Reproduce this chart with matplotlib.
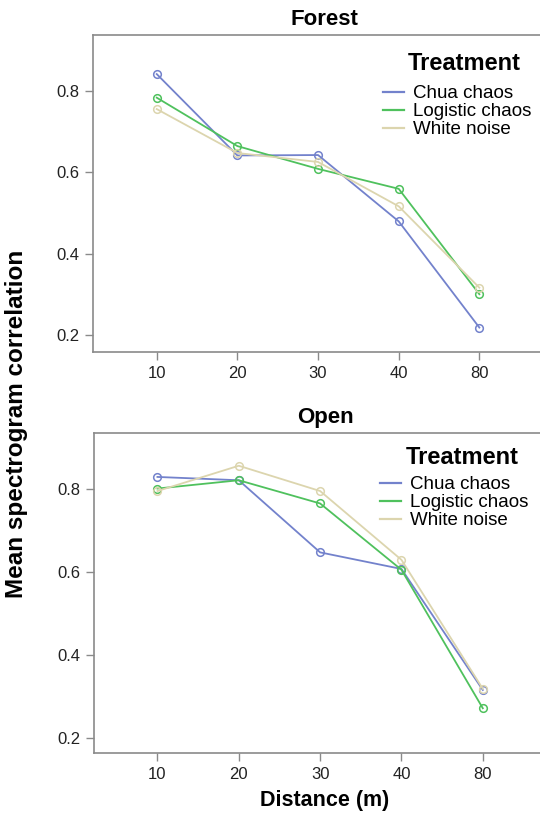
import matplotlib
matplotlib.use("Agg")
import matplotlib.pyplot as plt
from matplotlib.lines import Line2D

plt.rcParams['font.family'] = ['Liberation Sans', 'DejaVu Sans']

distances = ["10", "20", "30", "40", "80"]
series_names = ["Chua chaos", "Logistic chaos", "White noise"]

forest_chua = [0.841, 0.641, 0.642, 0.479, 0.218]
forest_logistic = [0.783, 0.664, 0.608, 0.559, 0.300]
forest_white = [0.755, 0.647, 0.625, 0.516, 0.316]

open_chua = [0.830, 0.822, 0.648, 0.608, 0.316]
open_logistic = [0.802, 0.822, 0.766, 0.606, 0.272]
open_white = [0.796, 0.857, 0.796, 0.630, 0.319]

colors = ["#7382cc", "#4fc15d", "#dcd5ae"]

W, H = 540, 815
fig = plt.figure(figsize=(W / 100, H / 100), dpi=100)

def px_axes(left, top, right, bottom):
    return fig.add_axes([left / W, 1 - bottom / H, (right - left) / W, (bottom - top) / H])

ax1 = px_axes(93, 35, 556, 352)
ax2 = px_axes(94, 433, 556, 753)

x = list(range(len(distances)))
spine_col = "#8a8a8a"

# (axes, title, data, xlim, ylim, legend handle-left px, first-row top px, title centre px)
panels = [
    (ax1, "Forest", [forest_chua, forest_logistic, forest_white], (-0.79, 4.95), (0.158, 0.937),
     383, 85, (464, 63)),
    (ax2, "Open", [open_chua, open_logistic, open_white], (-0.78, 4.90), (0.164, 0.936),
     380, 476, (462, 458)),
]

for ax, title, data, xl, yl, lx, ly, tpos in panels:
    for vals, name, c in zip(data, series_names, colors):
        ax.plot(x, vals, color=c, lw=1.3, marker="o", ms=5.5, mfc="none",
                mec=c, mew=1.1, label=name)
    ax.set_xlim(*xl)
    ax.set_ylim(*yl)
    ax.set_xticks(x)
    ax.set_xticklabels(distances)
    ax.set_yticks([0.2, 0.4, 0.6, 0.8])
    ax.set_yticklabels(["0.2", "0.4", "0.6", "0.8"])
    ax.tick_params(axis="both", colors=spine_col, labelcolor="#222222",
                   labelsize=12, length=6, width=1.0, direction="out", pad=4)
    for s in ax.spines.values():
        s.set_color(spine_col)
        s.set_linewidth(1.2)
    ax.set_title(title, fontsize=16, fontweight="bold", pad=7)
    handles = [Line2D([], [], color=c, lw=1.6) for c in colors]
    ax.legend(handles, series_names, loc="upper left",
              bbox_to_anchor=(lx / W, 1 - ly / H), bbox_transform=fig.transFigure,
              frameon=False, fontsize=13.5, handlelength=1.1, handletextpad=0.5,
              labelspacing=0.05, borderpad=0.0, borderaxespad=0.0)
    fig.text(tpos[0] / W, 1 - tpos[1] / H, "Treatment", fontsize=17, fontweight="bold",
             ha="center", va="center")

ax2.set_xlabel("Distance (m)", fontsize=15.5, fontweight="bold", labelpad=6)
fig.text(17 / W, 1 - 424 / H, "Mean spectrogram correlation", rotation=90,
         fontsize=17.5, fontweight="bold", ha="center", va="center")

fig.savefig("out.png", dpi=100)
